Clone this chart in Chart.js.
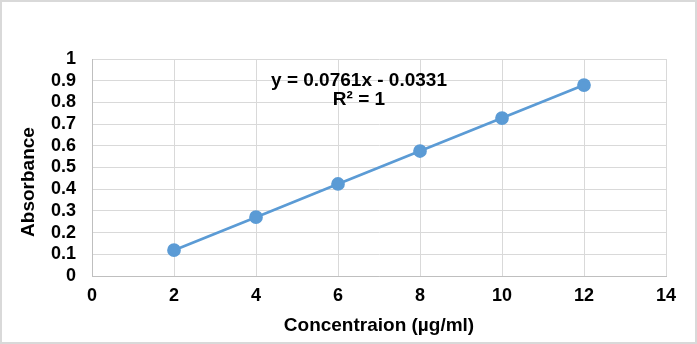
<!DOCTYPE html>
<html>
<head>
<meta charset="utf-8">
<script src="https://cdn.jsdelivr.net/npm/chart.js@4/dist/chart.umd.min.js"></script>
<style>
  html, body { margin: 0; padding: 0; background: #fff; }
  #wrap { width: 697px; height: 344px; }
</style>
</head>
<body>
<div id="wrap"><canvas id="grafico" width="697" height="344"></canvas></div>
<script>
// Datos
const concentracion = [2, 4, 6, 8, 10, 12];
const absorbancia = [0.119, 0.271, 0.424, 0.576, 0.728, 0.880];
const etiquetasY = ['0', '0.1', '0.2', '0.3', '0.4', '0.5', '0.6', '0.7', '0.8', '0.9', '1'];
const etiquetasX = ['0', '2', '4', '6', '8', '10', '12', '14'];
const ecuacion = ['y = 0.0761x - 0.0331', 'R² = 1'];
const tituloY = 'Absorbance';

const fuente = 'Liberation Sans, Arial, sans-serif';

// Fondo, borde, título del eje Y y texto de la regresión
const extras = {
    id: 'extras',
    beforeDraw(chart) {
        const ctx = chart.ctx;
        ctx.save();
        ctx.fillStyle = '#fff';
        ctx.fillRect(0, 0, chart.width, chart.height);
        ctx.restore();
    },
    afterDraw(chart) {
        const ctx = chart.ctx;
        ctx.save();
        ctx.strokeStyle = '#d9d9d9';
        ctx.lineWidth = 2;
        ctx.strokeRect(1, 1, chart.width - 2, chart.height - 2);
        ctx.fillStyle = '#000';
        ctx.font = 'bold 19px ' + fuente;
        ctx.textAlign = 'center';
        ctx.textBaseline = 'middle';
        ctx.fillText(ecuacion[0], 359, 81);
        ctx.fillText(ecuacion[1], 359, 100);
        ctx.translate(29, 182);
        ctx.rotate(-Math.PI / 2);
        ctx.fillText(tituloY, 0, 0);
        ctx.restore();
    }
};

new Chart(document.getElementById('grafico').getContext('2d'), {
    type: 'scatter',
    data: {
        datasets: [{
            data: concentracion.map((x, i) => ({ x: x, y: absorbancia[i] })),
            showLine: true,
            borderColor: '#5b9bd5',
            backgroundColor: '#5b9bd5',
            borderWidth: 2.75,
            pointRadius: 5.5,
            pointHoverRadius: 5.5,
        }],
    },
    options: {
        responsive: false,
        animation: false,
        layout: { padding: { left: 0, right: 31, top: 59, bottom: 0 } },
        plugins: { legend: { display: false }, tooltip: { enabled: false } },
        scales: {
            x: {
                type: 'linear',
                min: 0,
                max: 14,
                afterFit(scale) { scale.height = 68; },
                ticks: {
                    stepSize: 2,
                    padding: 9,
                    autoSkip: false,
                    maxRotation: 0,
                    color: '#000',
                    font: { family: fuente, size: 18, weight: 'bold' },
                    callback: (v, i) => etiquetasX[i],
                },
                grid: { color: '#d9d9d9', drawTicks: false },
                border: { color: '#bfbfbf' },
                title: {
                    display: true,
                    text: 'Concentraion (µg/ml)',
                    color: '#000',
                    font: { family: fuente, size: 19, weight: 'bold' },
                    padding: { top: 7, bottom: 7 },
                },
            },
            y: {
                min: 0,
                max: 1,
                afterFit(scale) { scale.width = 92; },
                ticks: {
                    stepSize: 0.1,
                    padding: 16,
                    autoSkip: false,
                    color: '#000',
                    font: { family: fuente, size: 18, weight: 'bold' },
                    callback: (v, i) => etiquetasY[i],
                },
                grid: { color: '#d9d9d9', drawTicks: false },
                border: { color: '#bfbfbf' },
            },
        },
    },
    plugins: [extras],
});
</script>
</body>
</html>
